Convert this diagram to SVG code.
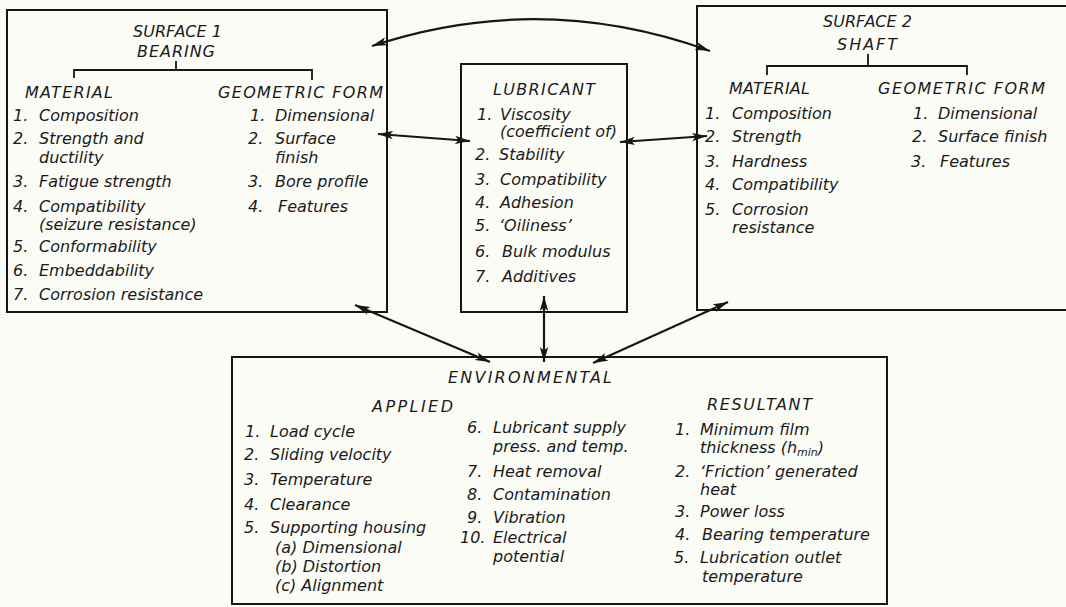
<svg xmlns="http://www.w3.org/2000/svg" width="1066" height="607" viewBox="0 0 1066 607">
<style>
.bg{fill:#fcfcf7}
.box{fill:none;stroke:#161616;stroke-width:2}
.br{fill:none;stroke:#161616;stroke-width:1.8}
.t{font-family:"DejaVu Sans","Liberation Sans",sans-serif;font-style:italic;font-size:16px;fill:#1a1a1a}
.conn{fill:none;stroke:#161616;stroke-width:2.2;marker-start:url(#ah);marker-end:url(#ah)}
</style>
<defs>
<marker id="ah" markerUnits="userSpaceOnUse" markerWidth="16" markerHeight="10" refX="15" refY="5" orient="auto-start-reverse">
<path d="M0,0.8 L15,5 L0,9.2 L3.5,5 Z" fill="#161616"/>
</marker>
</defs>
<rect class="bg" x="0" y="0" width="1066" height="607"/>

<g id="surface1">
<rect class="box" x="7" y="10" width="380" height="302"/>
<path class="br" d="M176,61 V70 M74,78 V70 H312 V80"/>
<text class="t" x="133" y="37" textLength="89">SURFACE 1</text>
<text class="t" x="137" y="57" textLength="78">BEARING</text>
<text class="t" x="25" y="98" textLength="88">MATERIAL</text>
<text class="t" x="218" y="98" textLength="165">GEOMETRIC FORM</text>
<text class="t" y="121"><tspan x="13">1.</tspan><tspan x="39">Composition</tspan></text>
<text class="t" y="144"><tspan x="13">2.</tspan><tspan x="39">Strength and</tspan></text>
<text class="t" x="39" y="163">ductility</text>
<text class="t" y="187"><tspan x="13">3.</tspan><tspan x="39">Fatigue strength</tspan></text>
<text class="t" y="212"><tspan x="13">4.</tspan><tspan x="39">Compatibility</tspan></text>
<text class="t" x="39" y="230">(seizure resistance)</text>
<text class="t" y="252"><tspan x="13">5.</tspan><tspan x="39">Conformability</tspan></text>
<text class="t" y="276"><tspan x="13">6.</tspan><tspan x="39">Embeddability</tspan></text>
<text class="t" y="300"><tspan x="13">7.</tspan><tspan x="39">Corrosion resistance</tspan></text>
<text class="t" y="121"><tspan x="250">1.</tspan><tspan x="275">Dimensional</tspan></text>
<text class="t" y="144"><tspan x="248">2.</tspan><tspan x="275">Surface</tspan></text>
<text class="t" x="275" y="163">finish</text>
<text class="t" y="187"><tspan x="248">3.</tspan><tspan x="275">Bore profile</tspan></text>
<text class="t" y="212"><tspan x="248">4.</tspan><tspan x="278">Features</tspan></text>
</g>

<g id="lubricant">
<rect class="box" x="461" y="64" width="166" height="248"/>
<text class="t" x="493" y="95" textLength="102">LUBRICANT</text>
<text class="t" y="120"><tspan x="477">1.</tspan><tspan x="500">Viscosity</tspan></text>
<text class="t" x="500" y="137">(coefficient of)</text>
<text class="t" y="160"><tspan x="475">2.</tspan><tspan x="499">Stability</tspan></text>
<text class="t" y="185"><tspan x="475">3.</tspan><tspan x="500">Compatibility</tspan></text>
<text class="t" y="208"><tspan x="475">4.</tspan><tspan x="500">Adhesion</tspan></text>
<text class="t" y="231"><tspan x="475">5.</tspan><tspan x="499">‘Oiliness’</tspan></text>
<text class="t" y="257"><tspan x="475">6.</tspan><tspan x="502">Bulk modulus</tspan></text>
<text class="t" y="282"><tspan x="475">7.</tspan><tspan x="502">Additives</tspan></text>
</g>

<g id="surface2">
<rect class="box" x="697" y="6" width="380" height="304"/>
<path class="br" d="M868,54 V66 M767,75 V66 H967 V75"/>
<text class="t" x="823" y="27" textLength="89">SURFACE 2</text>
<text class="t" x="837" y="50" textLength="60">SHAFT</text>
<text class="t" x="729" y="94" textLength="81">MATERIAL</text>
<text class="t" x="878" y="94" textLength="167">GEOMETRIC FORM</text>
<text class="t" y="119"><tspan x="705">1.</tspan><tspan x="732">Composition</tspan></text>
<text class="t" y="142"><tspan x="705">2.</tspan><tspan x="732">Strength</tspan></text>
<text class="t" y="167"><tspan x="705">3.</tspan><tspan x="732">Hardness</tspan></text>
<text class="t" y="190"><tspan x="705">4.</tspan><tspan x="732">Compatibility</tspan></text>
<text class="t" y="215"><tspan x="705">5.</tspan><tspan x="732">Corrosion</tspan></text>
<text class="t" x="732" y="233">resistance</text>
<text class="t" y="119"><tspan x="913">1.</tspan><tspan x="938">Dimensional</tspan></text>
<text class="t" y="142"><tspan x="912">2.</tspan><tspan x="938">Surface finish</tspan></text>
<text class="t" y="167"><tspan x="911">3.</tspan><tspan x="940">Features</tspan></text>
</g>

<g id="environmental">
<rect class="box" x="232" y="357" width="655" height="247"/>
<text class="t" x="448" y="383" textLength="164">ENVIRONMENTAL</text>
<text class="t" x="372" y="412" textLength="81">APPLIED</text>
<text class="t" y="437"><tspan x="245">1.</tspan><tspan x="270">Load cycle</tspan></text>
<text class="t" y="460"><tspan x="244">2.</tspan><tspan x="270">Sliding velocity</tspan></text>
<text class="t" y="485"><tspan x="244">3.</tspan><tspan x="270">Temperature</tspan></text>
<text class="t" y="510"><tspan x="244">4.</tspan><tspan x="270">Clearance</tspan></text>
<text class="t" y="533"><tspan x="244">5.</tspan><tspan x="270">Supporting housing</tspan></text>
<text class="t" x="275" y="553">(a) Dimensional</text>
<text class="t" x="275" y="572">(b) Distortion</text>
<text class="t" x="275" y="591">(c) Alignment</text>
<text class="t" y="433"><tspan x="467">6.</tspan><tspan x="493">Lubricant supply</tspan></text>
<text class="t" x="493" y="452">press. and temp.</text>
<text class="t" y="477"><tspan x="467">7.</tspan><tspan x="493">Heat removal</tspan></text>
<text class="t" y="500"><tspan x="467">8.</tspan><tspan x="493">Contamination</tspan></text>
<text class="t" y="523"><tspan x="467">9.</tspan><tspan x="493">Vibration</tspan></text>
<text class="t" y="543"><tspan x="460">10.</tspan><tspan x="493">Electrical</tspan></text>
<text class="t" x="493" y="562">potential</text>
<text class="t" x="707" y="410" textLength="105">RESULTANT</text>
<text class="t" y="435"><tspan x="675">1.</tspan><tspan x="700">Minimum film</tspan></text>
<text class="t" x="700" y="453">thickness (h<tspan font-size="11" dy="3">min</tspan><tspan dy="-3">)</tspan></text>
<text class="t" y="477"><tspan x="675">2.</tspan><tspan x="700">‘Friction’ generated</tspan></text>
<text class="t" x="700" y="495">heat</text>
<text class="t" y="517"><tspan x="675">3.</tspan><tspan x="700">Power loss</tspan></text>
<text class="t" y="540"><tspan x="675">4.</tspan><tspan x="702">Bearing temperature</tspan></text>
<text class="t" y="563"><tspan x="674">5.</tspan><tspan x="700">Lubrication outlet</tspan></text>
<text class="t" x="702" y="582">temperature</text>
</g>

<g id="connectors">
<path class="conn" d="M372,46 Q541,-10 710,51"/>
<path class="conn" d="M378,134 L470,141"/>
<path class="conn" d="M620,142 L707,136"/>
<path class="conn" d="M355,305 L490,362"/>
<path class="conn" d="M544,296 L544,362"/>
<path class="conn" d="M728,302 L593,363"/>
</g>
</svg>
